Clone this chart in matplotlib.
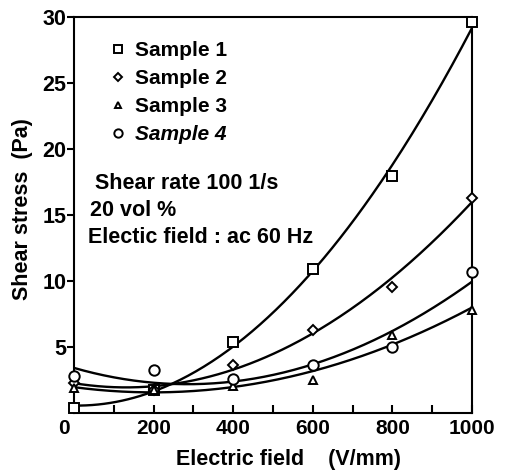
import numpy as np
import matplotlib
matplotlib.use("Agg")
import matplotlib.pyplot as plt
from matplotlib.transforms import ScaledTranslation

plt.rcParams['font.family'] = ['Liberation Sans', 'DejaVu Sans']
plt.rcParams['font.weight'] = 'bold'
plt.rcParams['axes.labelweight'] = 'bold'

field = [0, 200, 400, 600, 800, 1000]
sample1 = [0.4, 1.8, 5.4, 10.9, 18.0, 29.6]
sample2 = [2.3, 1.8, 3.7, 6.3, 9.6, 16.3]
sample3 = [1.9, 1.8, 2.1, 2.5, 5.9, 7.8]
sample4 = [2.8, 3.3, 2.6, 3.7, 5.0, 10.7]

labels = ["Sample 1", "Sample 2", "Sample 3", "Sample 4"]
markers = ["s", "D", "^", "o"]
sizes = [6.5, 5.5, 6.0, 7.5]

fig = plt.figure(figsize=(5.07, 4.73), dpi=100)
ax = fig.add_axes([0.146, 0.126, 0.785, 0.838])

xs = np.linspace(0, 1000, 200)
handles = []
for ys, lab, m, s in zip([sample1, sample2, sample3, sample4], labels, markers, sizes):
    coef = np.polyfit(field, ys, 2)
    ax.plot(xs, np.polyval(coef, xs), color='black', lw=1.7, zorder=2)
    h, = ax.plot(field, ys, linestyle='none', marker=m, ms=s,
                 mfc='white', mec='black', mew=1.4, clip_on=False, zorder=3, label=lab)
    handles.append(h)

ax.set_xlim(0, 1000)
ax.set_ylim(0, 30)
ax.set_xticks(range(0, 1001, 200))
ax.set_xticks(range(100, 1000, 200), minor=True)
ax.set_yticks([5, 10, 15, 20, 25, 30])
ax.tick_params(axis='x', which='both', direction='in', length=6, width=1.5, labelsize=15, pad=4)
ax.tick_params(axis='y', direction='out', length=5, width=1.5, labelsize=15.5, pad=0.5)
for sp in ax.spines.values():
    sp.set_linewidth(1.5)

lab0 = ax.get_xticklabels()[0]
lab0.set_transform(lab0.get_transform() + ScaledTranslation(-0.1, 0, fig.dpi_scale_trans))

leg = ax.legend(handles=handles, loc='upper left', bbox_to_anchor=(0.085, 0.94), frameon=False,
                fontsize=15, handletextpad=0.3, labelspacing=0.44, handlelength=1.0,
                borderaxespad=0, borderpad=0, markerscale=0.8)
leg.get_texts()[3].set_style('italic')

ax.text(0.053, 0.581, "Shear rate 100 1/s", transform=ax.transAxes, fontsize=15.5, va='center')
ax.text(0.04, 0.513, "20 vol %", transform=ax.transAxes, fontsize=15.5, va='center')
ax.text(0.035, 0.445, "Electic field : ac 60 Hz", transform=ax.transAxes, fontsize=15.5, va='center')

ax.set_xlabel("Electric field    (V/mm)", fontsize=15.5, labelpad=8)
ax.set_ylabel("Shear stress  (Pa)", fontsize=15.5, labelpad=7)
ax.xaxis.label.set_x(0.538)
ax.yaxis.label.set_y(0.516)

fig.savefig("out.png", dpi=100)
